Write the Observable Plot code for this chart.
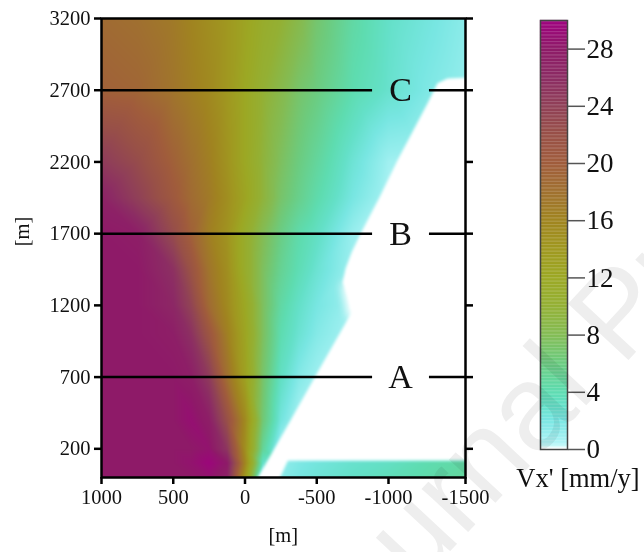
<!DOCTYPE html>
<html><head><meta charset="utf-8">
<script src="https://cdn.jsdelivr.net/npm/d3@7"></script>
<script src="https://cdn.jsdelivr.net/npm/@observablehq/plot@0.6"></script>
<style>
html,body{margin:0;padding:0;background:#fff}
#wrap{position:relative;width:644px;height:552px;overflow:hidden}
#wrap svg{position:absolute;left:0;top:0}
.mask path{filter:blur(1.4px)}
.fade path{filter:blur(4px)}
</style></head><body><div id="wrap"></div>
<script>
const xCols = [1000,750,500,375,250,125,0,-125,-250,-375,-500,-750,-1000,-1250,-1500];
const yRows = [3200,2700,2200,1950,1700,1450,1200,1000,700,400,200,100,0];
const row3200 = [18.5,18,17,16,15,14,12.5,11,10,8.5,6.8,4.5,3,2.2,1.4];
const row2700 = [19.5,19,17.5,16.5,15.5,14,12,10,8.5,7,6,4,2.8,1.8,1.1];
const row2200 = [24.5,22.5,19.5,18,16.5,14.5,12,9.5,7.5,6,4.8,2.5,0.8,0.5,0.5];
const row1950 = [27,24,20.5,18.5,17,15,12.5,9.5,7,5.5,4.2,2,0.5,0.5,0.5];
const row1700 = [28,27.5,22.5,19.5,16.5,14.5,11,8,5.8,4.2,3.2,1,0.5,0.5,0.5];
const row1450 = [28,28,25.5,21.5,17.5,15,11,7.5,5.2,3.8,2.6,0.8,0.5,0.5,0.5];
const row1200 = [28,28,26.5,23.5,18.5,15.5,12,7.5,4.5,3,2,0.8,0.5,0.5,0.5];
const row1000 = [28,28,27.5,25.5,21,16.5,12.5,7.5,4,2.6,1.6,0.5,0.5,0.5,0.5];
const row700  = [28,28,28,27.5,24.5,18,13,7,3.2,1.6,0.8,0.3,0.3,0.3,0.3];
const row400  = [28,28,28,28.8,27.5,22,15.5,6.5,2.2,0.5,0.3,0.3,0.3,0.3,0.3];
const row200  = [28,28,28,28,28.5,25,15,5,0.6,0.3,0.3,0.3,0.3,0.3,0.3];
const row100  = [28,28,28,28.5,29.5,28,16,3,1.2,1.8,2.2,2.8,3.2,4,4.5];
const row0    = [28,28,28,28,28.5,27,14,0.5,1.4,2,2.4,3,3.6,4.2,4.8];
const rows = [row3200,row2700,row2200,row1950,row1700,row1450,row1200,row1000,row700,row400,row200,row100,row0];

// region with no data (white), outline
const voidX = [-70,-90,-278,-486,-743,-715,-680,-701,-743,-799,-938,-1058,-1253,-1318,-1383,-1540,-1540,-299,-230];
const voidY = [-30,0,328,697,1150,1269,1360,1457,1569,1688,1953,2210,2608,2748,2782,2789,118,118,-30];
const fadeX = [-722,-688,-674,-743,-833,-799];
const fadeY = [1109,1269,1353,1353,1234,1109];

const xTicks = [1000,500,0,-500,-1000,-1500];
const yTicks = [200,700,1200,1700,2200,2700,3200];
const sections = ["A","B","C"];
const sectionY = [700,1700,2700];
const colorTicks = [0,4,8,12,16,20,24,28];
const colorStops = [0,0.25,1,2,3,4,6,8,10,12,14,16,18,20,22,24,26,28,30];
const colorHex = ["#ffffff","#b8f6f8","#98eeee","#78e6e2","#64e0c8","#5edcb0","#6ccc80","#84bc54","#94b034","#9ca824","#a09820","#a08420","#a07030","#a05c3c","#985048","#904058","#8c2c64","#8e1a68","#a00080"];

const colorScale = {type:"linear",domain:colorStops,range:colorHex,clamp:true};
const font = "'Liberation Serif'";
const samples = yRows.flatMap((y,j)=>xCols.map((x,i)=>({x,y,v:rows[j][i]})));
const voidPts = voidX.map((x,i)=>({x,y:voidY[i]}));
const fadePts = fadeX.map((x,i)=>({x,y:fadeY[i]}));
const ink = {stroke:"#000",strokeWidth:2.5};

const main = Plot.plot({
  width:644,height:552,marginLeft:101,marginRight:179,marginTop:18,marginBottom:75,
  style:{fontFamily:font,background:"transparent",color:"#111"},
  x:{type:"linear",domain:[1000,-1000,-1500],range:[101,388,465]},
  y:{domain:[0,3200],range:[477,18]},
  color:colorScale,
  marks:[
    Plot.raster(samples,{x:"x",y:"y",fill:"v",interpolate:"barycentric",pixelSize:1}),
    Plot.line(fadePts,{x:"x",y:"y",fill:"white",stroke:"none",className:"fade"}),
    Plot.line(voidPts,{x:"x",y:"y",fill:"white",stroke:"none",className:"mask"}),
    Plot.ruleY(sectionY,{x1:1000,x2:-889,...ink}),
    Plot.ruleY(sectionY,{x1:-1266,x2:-1500,...ink}),
    Plot.text(sections,{x:()=>-1078,y:(d,i)=>sectionY[i],text:d=>d,fontSize:34,fill:"#111"}),
    Plot.frame({...ink}),
    Plot.axisX({ticks:xTicks,anchor:"bottom",tickSize:7,tickPadding:5,fontSize:20.5,label:null,tickFormat:d=>String(d),...ink}),
    Plot.axisY({ticks:yTicks,anchor:"left",tickSize:7,tickPadding:4,fontSize:20.5,label:null,tickFormat:d=>String(d),...ink}),
    Plot.axisY({ticks:yTicks,anchor:"right",tickSize:7,label:null,tickFormat:()=>"",...ink}),
    Plot.text(["[m]"],{x:()=>-267,y:()=>0,dy:58,text:d=>d,fontSize:20.5,fill:"#111"}),
    Plot.text(["[m]"],{frameAnchor:"left",dx:-79,dy:0,rotate:-90,y:()=>1612,text:d=>d,fontSize:20.5,fill:"#111"})
  ]
});

const bins = d3.range(0,30,0.1);
const bar = Plot.plot({
  width:644,height:552,marginLeft:540,marginRight:77,marginTop:20,marginBottom:103,
  style:{fontFamily:font,background:"transparent",color:"#111"},
  x:{domain:[0,1],axis:null},
  y:{domain:[0,30]},
  color:colorScale,
  marks:[
    Plot.rect(bins,{x1:()=>0,x2:()=>1,y1:d=>d,y2:d=>d+0.1,fill:d=>d,inset:-0.1}),
    Plot.frame({stroke:"#444",strokeWidth:1.5}),
    Plot.axisY({ticks:colorTicks,anchor:"right",tickSize:17,tickPadding:2,fontSize:27,label:null,stroke:"#555",strokeWidth:1.5,tickFormat:d=>String(d)}),
    Plot.text(["Vx' [mm/y]"],{x:()=>0.5,y:()=>0,dx:24,dy:29,text:d=>d,fontSize:26.5,fill:"#111"})
  ]
});
const mark = Plot.plot({
  width:644,height:552,margin:0,
  style:{fontFamily:"'Liberation Sans'",background:"transparent",mixBlendMode:"multiply"},
  x:{domain:[0,644],axis:null},y:{domain:[552,0],axis:null},
  marks:[
    Plot.text(["Journal Pre-proof"],{x:()=>330,y:()=>679,text:d=>d,rotate:-47,textAnchor:"start",lineAnchor:"bottom",fontSize:120,fill:"#eeeeee"})
  ]
});
const wrap=document.getElementById("wrap");
wrap.append(main,bar,mark);
</script></body></html>
